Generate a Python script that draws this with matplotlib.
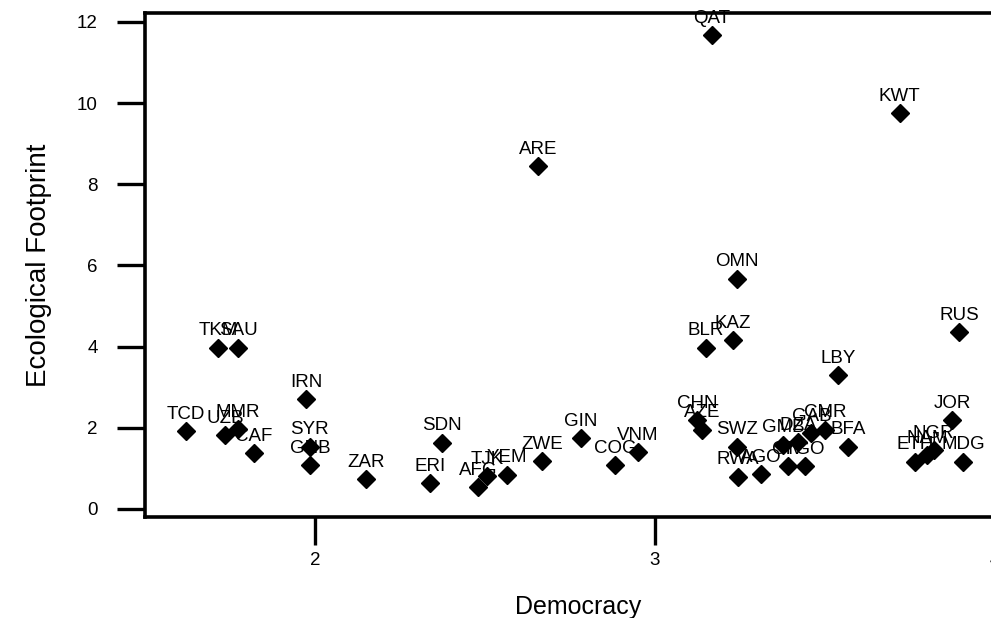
import matplotlib
matplotlib.use("Agg")
import matplotlib.pyplot as plt

plt.rcParams['font.family'] = ['Liberation Sans', 'DejaVu Sans']

countries = ["QAT", "KWT", "ARE", "OMN", "BLR", "KAZ", "LBY", "RUS", "JOR",
             "ETH", "NGR", "NAM", "MDG",
             "TKM", "SAU", "IRN", "TCD", "UZB", "MMR", "CAF", "SYR", "GNB",
             "ZAR", "SDN", "ERI", "AFG", "TJK", "YEM", "ZWE", "GIN", "COG", "VNM",
             "CHN", "AZE", "SWZ", "RWA", "AGO", "GMB", "CIV", "TGO", "DZA",
             "GAB", "CMR", "BFA"]
democracy = [3.168, 3.72, 2.656, 3.241, 3.15, 3.229, 3.538, 3.894, 3.874,
             3.765, 3.82, 3.80, 3.906,
             1.715, 1.774, 1.974, 1.621, 1.735, 1.774, 1.82, 1.985, 1.985,
             2.15, 2.374, 2.338, 2.479, 2.506, 2.565, 2.668, 2.782, 2.882, 2.95,
             3.124, 3.138, 3.241, 3.244, 3.312, 3.376, 3.39, 3.44, 3.42,
             3.46, 3.50, 3.568]
footprint = [11.67, 9.75, 8.45, 5.67, 3.97, 4.16, 3.30, 4.36, 2.19,
             1.16, 1.45, 1.33, 1.16,
             3.97, 3.97, 2.71, 1.92, 1.82, 1.97, 1.38, 1.53, 1.08,
             0.74, 1.63, 0.64, 0.54, 0.81, 0.84, 1.18, 1.75, 1.08, 1.40,
             2.19, 1.95, 1.53, 0.79, 0.86, 1.58, 1.06, 1.06, 1.65,
             1.87, 1.95, 1.53]

xticks = [2, 3, 4]
yticks = [0, 2, 4, 6, 8, 10, 12]

fig = plt.figure(figsize=(9.91, 6.18), dpi=100)
ax = fig.add_axes([145/991, 101/618, 867/991, 504/618])

ax.plot(democracy, footprint, linestyle='none', marker='D', markersize=9,
        color='black')
for name, xv, yv in zip(countries, democracy, footprint):
    ax.annotate(name, (xv, yv), xytext=(0, 6), textcoords='offset points',
                ha='center', va='bottom', fontsize=13.5, color='black')

ax.set_xlim(1.5, 4.05)
ax.set_ylim(-0.2, 12.22)
ax.set_xticks(xticks)
ax.set_yticks(yticks)
ax.tick_params(axis='both', direction='out', length=20, width=2.4,
               labelsize=13.5, color='black')
ax.tick_params(axis='y', pad=14)
ax.tick_params(axis='x', pad=5)
for s in ax.spines.values():
    s.set_linewidth(2.6)
ax.set_xlabel("Democracy", fontsize=18, labelpad=19)
ax.set_ylabel("Ecological Footprint", fontsize=20, labelpad=18)

fig.savefig("out.png", dpi=100)
